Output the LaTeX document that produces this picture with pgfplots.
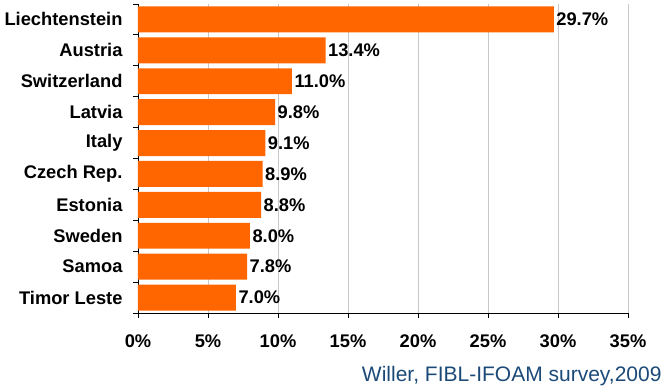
\documentclass[border=0pt]{standalone}
\usepackage{pgfplots}
\pgfplotsset{compat=1.18}
\usepackage{fontspec}
\setmainfont{Liberation Sans}
\definecolor{barorange}{RGB}{255,102,0}
\definecolor{srcblue}{RGB}{28,74,120}
\definecolor{gridgrey}{RGB}{200,200,200}
\begin{document}
\begin{tikzpicture}
\path (-138pt,-76pt) rectangle (534pt,313pt);
\begin{axis}[
  at={(0,0)}, anchor=south west,
  scale only axis,
  width=490pt, height=309pt,
  xbar,
  bar width=0.84,
  xmin=0, xmax=35,
  ymin=0.5, ymax=10.5,
  y dir=reverse,
  axis x line*=bottom,
  axis y line*=left,
  axis line style={black, line width=0.8pt},
  xtick={0,5,...,35},
  xticklabels={0\%,5\%,10\%,15\%,20\%,25\%,30\%,35\%},
  ytick={0.5,1.5,...,10.5},
  yticklabels={},
  extra y ticks={1,...,10},
  extra y tick labels={Liechtenstein,Austria,Switzerland,Latvia,Italy,Czech Rep.,Estonia,Sweden,Samoa,Timor Leste},
  extra y tick style={major tick length=0pt, yticklabel style={xshift=-12pt}},
  major tick length=5pt,
  tick align=outside,
  tick style={black, line width=0.8pt},
  xmajorgrids,
  grid style={gridgrey, line width=0.6pt},
  tick label style={font=\fontsize{18.3}{21}\selectfont\bfseries},
  xticklabel style={yshift=-13pt},
  nodes near coords={\pgfmathprintnumber[fixed,fixed zerofill,precision=1,assume math mode=true]{\pgfplotspointmeta}\%},
  nodes near coords style={font=\fontsize{18.3}{21}\selectfont\bfseries, anchor=west, xshift=-1pt},
  point meta=explicit,
  clip=false,
]
\addplot[fill=barorange, draw=none] table[x=v, y=i, meta=v] {
i v
1 29.7
2 13.4
3 11.0
4 9.8
5 9.1
6 8.9
7 8.8
8 8.0
9 7.8
10 7.0
};
\node[anchor=base east, text=srcblue, font=\fontsize{21}{24}\selectfont] at (rel axis cs:1.0755,-0.222) {Willer, FIBL-IFOAM survey,2009};
\end{axis}
\end{tikzpicture}
\end{document}
